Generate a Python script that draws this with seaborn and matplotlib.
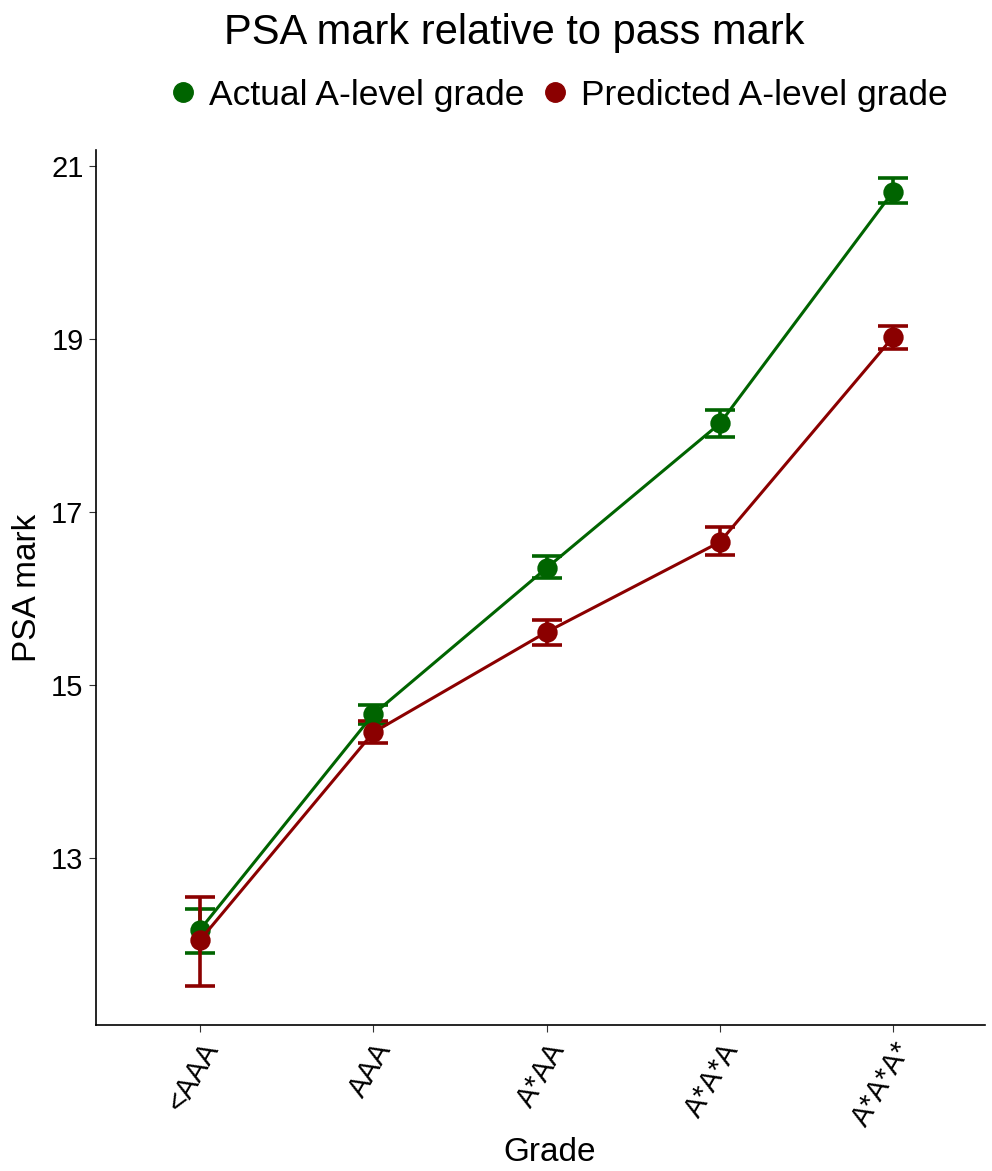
import numpy as np
import pandas as pd
import matplotlib
matplotlib.use('Agg')
import matplotlib.pyplot as plt
import seaborn as sns
from matplotlib.lines import Line2D

# ==================== Data ====================
grades = ['<AAA', 'AAA', 'A*AA', 'A*A*A', 'A*A*A*']
actual_mean = [12.17, 14.66, 16.35, 18.02, 20.70]
actual_low = [11.90, 14.55, 16.23, 17.86, 20.57]
actual_high = [12.41, 14.77, 16.49, 18.18, 20.86]
predicted_mean = [12.05, 14.45, 15.61, 16.65, 19.02]
predicted_low = [11.52, 14.33, 15.46, 16.50, 18.88]
predicted_high = [12.55, 14.58, 15.75, 16.82, 19.15]

series_names = ['Actual A-level grade', 'Predicted A-level grade']
colors = {'Actual A-level grade': '#006400', 'Predicted A-level grade': '#8B0000'}

df = pd.DataFrame({
    'Grade': grades * 2,
    'PSA mark': actual_mean + predicted_mean,
    'low': actual_low + predicted_low,
    'high': actual_high + predicted_high,
    'Type': [series_names[0]] * 5 + [series_names[1]] * 5,
})

# ==================== Plot ====================
sns.set_style('white')
plt.rcParams['font.family'] = ['Liberation Sans', 'DejaVu Sans']
plt.rcParams['text.color'] = 'black'
plt.rcParams['axes.labelcolor'] = 'black'

fig = plt.figure(figsize=(9.92, 11.71), dpi=100)
ax = fig.add_axes([96 / 992, 146 / 1171, (985 - 96) / 992, (1025 - 150) / 1171])

# error bars first, so points sit on top
for name in series_names:
    sub = df[df['Type'] == name]
    x = np.arange(len(sub))
    ax.errorbar(x, sub['PSA mark'],
                yerr=[sub['PSA mark'] - sub['low'], sub['high'] - sub['PSA mark']],
                fmt='none', ecolor=colors[name], elinewidth=2.6,
                capsize=11, capthick=2.6, zorder=2)

sns.pointplot(data=df, x='Grade', y='PSA mark', hue='Type', order=grades,
              hue_order=series_names, palette=colors, errorbar=None,
              markers='o', linestyles='-', markersize=13, linewidth=2.2,
              ax=ax, legend=False)

ax.set_xlim(-0.6, 4.53)
ax.set_ylim(11.07, 21.18)
ax.set_yticks([13, 15, 17, 19, 21])
ax.tick_params(axis='both', labelsize=21, length=5, color='#333333',
               labelcolor='black', direction='out')
ax.tick_params(axis='x', pad=4)
ax.tick_params(axis='y', left=True, pad=4)
ax.tick_params(axis='x', bottom=True)
for lbl in ax.get_xticklabels():
    lbl.set_rotation(60)
    lbl.set_ha('right')
    lbl.set_va('top')
    lbl.set_rotation_mode('anchor')

ax.set_xlabel('Grade', fontsize=24, labelpad=4, color='black')
ax.set_ylabel('PSA mark', fontsize=24, labelpad=6, color='black')
ax.xaxis.label.set_x(0.51)
sns.despine(ax=ax)
for s in ['left', 'bottom']:
    ax.spines[s].set_color('black')
    ax.spines[s].set_linewidth(1.2)

fig.text(0.518, 1 - 33 / 1171, 'PSA mark relative to pass mark',
         ha='center', va='center', fontsize=30)

handles = [Line2D([], [], marker='o', linestyle='none', color=colors[n],
                  markersize=14) for n in series_names]
fig.legend(handles, series_names, loc='center', bbox_to_anchor=(0.56, 1 - 95 / 1171),
           ncol=2, frameon=False, fontsize=25.5, handletextpad=0.2,
           columnspacing=0.3, handlelength=1.1)

plt.savefig('out.png', dpi=100)
